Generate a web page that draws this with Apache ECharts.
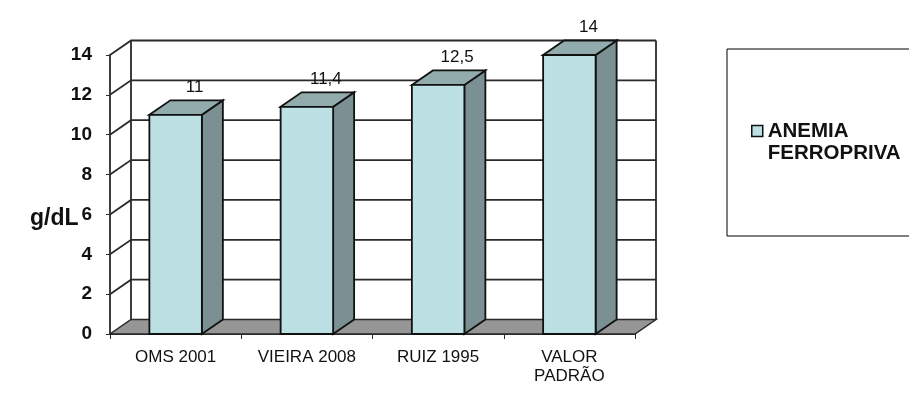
<!doctype html>
<html lang="pt">
  <head>
    <meta charset="utf-8">
    <title>Anemia ferropriva</title>
    <script src="https://cdn.jsdelivr.net/npm/echarts@6/dist/echarts.min.js"></script>
    <style>
      html, body { margin: 0; padding: 0; background: #fff; }
      #chart { width: 909px; height: 414px; }
    </style>
  </head>
  <body>
    <div id="chart"></div>
    <script>
      var categories = ['OMS 2001', 'VIEIRA 2008', 'RUIZ 1995', 'VALOR\nPADRÃO'];
      var values = [11, 11.4, 12.5, 14];
      var valueLabels = ['11', '11,4', '12,5', '14'];
      var yTicks = [0, 2, 4, 6, 8, 10, 12, 14];
      var seriesName = 'ANEMIA\nFERROPRIVA';

      // fake 3D depth, in pixels
      var depthX = 21;
      var depthY = -14.5;
      var font = 'Arial, "Liberation Sans", sans-serif';
      var lineColor = '#2a2a2a';

      function renderWall(params, api) {
        var tick = api.value(1);
        var y = api.coord([0, tick])[1];
        var left = params.coordSys.x;
        var right = left + params.coordSys.width;
        var lineStyle = { stroke: lineColor, lineWidth: 1.8, fill: null };
        var children = [];

        if (tick === 0) {
          children.push({
            type: 'polygon',
            shape: { points: [[left, y], [right, y], [right + depthX, y + depthY], [left + depthX, y + depthY]] },
            style: { fill: '#969696', stroke: lineColor, lineWidth: 1.5 }
          });
          // back corners of the box
          var topY = api.coord([0, yTicks[yTicks.length - 1]])[1] + depthY;
          children.push({
            type: 'polyline',
            shape: { points: [[left + depthX, y + depthY], [left + depthX, topY]] },
            style: lineStyle
          });
          children.push({
            type: 'polyline',
            shape: { points: [[right + depthX, y + depthY], [right + depthX, topY]] },
            style: lineStyle
          });
        } else {
          children.push({
            type: 'polyline',
            shape: { points: [[left, y], [left + depthX, y + depthY], [right + depthX, y + depthY]] },
            style: lineStyle
          });
        }
        return { type: 'group', children: children };
      }

      function renderBar(params, api) {
        var i = api.value(0);
        var top = api.coord([i, api.value(1)]);
        var base = api.coord([i, 0]);
        var w = api.size([1, 0])[0] * 0.4;
        var x0 = top[0] - w / 2;
        var x1 = top[0] + w / 2;
        var edge = { stroke: '#111', lineWidth: 1.8 };

        return {
          type: 'group',
          children: [
            {
              type: 'polygon',
              shape: { points: [[x1, base[1]], [x1 + depthX, base[1] + depthY], [x1 + depthX, top[1] + depthY], [x1, top[1]]] },
              style: Object.assign({ fill: '#7A9092' }, edge)
            },
            {
              type: 'polygon',
              shape: { points: [[x0, top[1]], [x0 + depthX, top[1] + depthY], [x1 + depthX, top[1] + depthY], [x1, top[1]]] },
              style: Object.assign({ fill: '#92ABAD' }, edge)
            },
            {
              type: 'rect',
              shape: { x: x0, y: top[1], width: w, height: base[1] - top[1] },
              style: Object.assign({ fill: '#BCE0E4' }, edge)
            },
            {
              type: 'text',
              style: {
                text: valueLabels[i],
                x: top[0] + 19,
                y: top[1] + depthY - 13,
                align: 'center',
                verticalAlign: 'middle',
                fill: '#111',
                font: '17px ' + font
              }
            }
          ]
        };
      }

      var chart = echarts.init(document.getElementById('chart'), null, { renderer: 'canvas' });

      var option = {
        animation: false,
        backgroundColor: '#fff',
        grid: { left: 110, right: 274, top: 55, bottom: 80 },
        legend: {
          left: 727,
          top: 49,
          orient: 'vertical',
          padding: [49, 100, 72, 24],
          borderColor: '#000',
          borderWidth: 1,
          itemWidth: 11,
          itemHeight: 11,
          itemGap: 0,
          icon: 'rect',
          itemStyle: { color: '#BCE0E4', borderColor: '#111', borderWidth: 1.5 },
          // blank first line so the marker sits beside ANEMIA
          formatter: function (name) { return '\n' + name; },
          textStyle: { fontFamily: font, fontSize: 20.5, fontWeight: 'bold', color: '#111', lineHeight: 22 },
          data: [seriesName]
        },
        xAxis: {
          type: 'category',
          data: categories,
          axisLine: { lineStyle: { color: lineColor, width: 1.8 } },
          axisTick: { show: true, alignWithLabel: false, length: 5, lineStyle: { color: lineColor } },
          axisLabel: { fontFamily: font, fontSize: 17, color: '#111', margin: 14, lineHeight: 19, interval: 0 }
        },
        yAxis: {
          type: 'value',
          min: 0,
          max: 14,
          interval: 2,
          splitLine: { show: false },
          axisLine: { show: true, lineStyle: { color: lineColor, width: 1.8 } },
          axisTick: { show: true, length: 4, lineStyle: { color: lineColor } },
          axisLabel: { fontFamily: font, fontSize: 19, fontWeight: 'bold', color: '#111', margin: 18, padding: [6, 0, 0, 0] }
        },
        graphic: [
          {
            type: 'text',
            left: 30,
            top: 207,
            style: { text: 'g/dL', fill: '#111', font: 'bold 23px ' + font }
          }
        ],
        series: [
          {
            type: 'custom',
            name: 'wall',
            silent: true,
            z: 1,
            encode: { x: 0, y: 1 },
            renderItem: renderWall,
            data: yTicks.map(function (t) { return [0, t]; })
          },
          {
            type: 'custom',
            name: seriesName,
            z: 2,
            encode: { x: 0, y: 1 },
            itemStyle: { color: '#BCE0E4' },
            renderItem: renderBar,
            data: values.map(function (v, i) { return [i, v]; })
          }
        ]
      };

      chart.setOption(option);
    </script>
  </body>
</html>
